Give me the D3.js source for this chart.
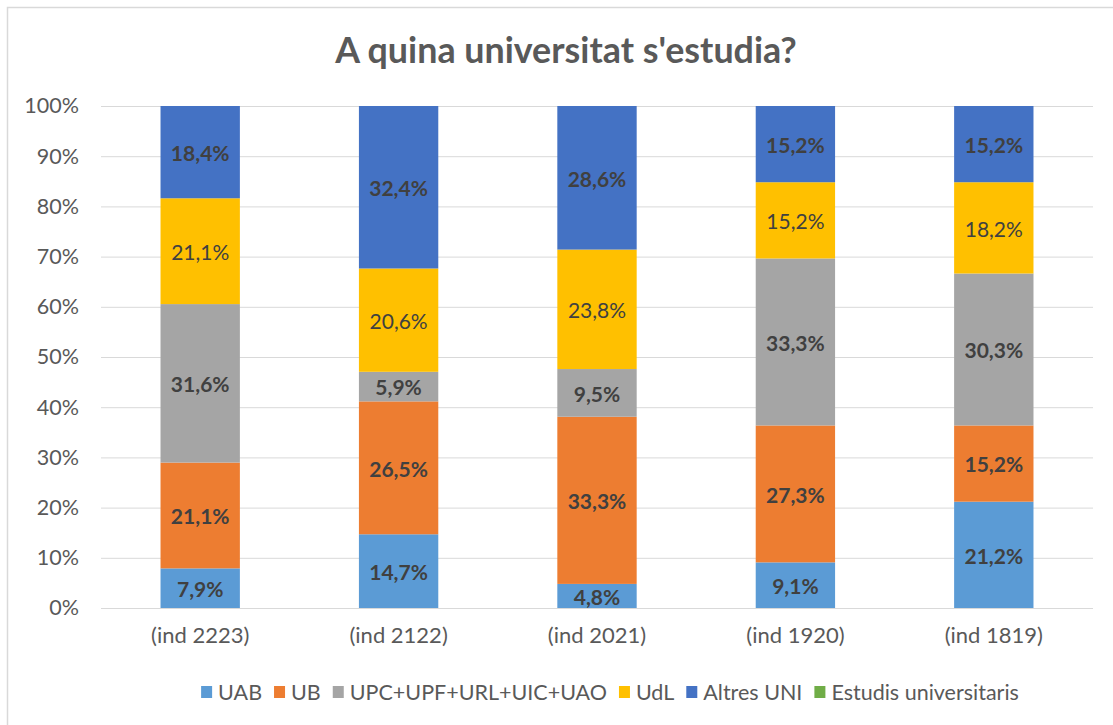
<!DOCTYPE html>
<html><head><meta charset="utf-8">
<script src="https://cdn.jsdelivr.net/npm/d3@7"></script>
<style>
html,body{margin:0;padding:0;background:#fff;}
svg{display:block;font-family:Lato,"Liberation Sans",sans-serif;}
</style></head>
<body><svg id="c" width="1113" height="725"></svg>
<script>
const categories = ["(ind 2223)", "(ind 2122)", "(ind 2021)", "(ind 1920)", "(ind 1819)"];
const seriesNames = ["UAB", "UB", "UPC+UPF+URL+UIC+UAO", "UdL", "Altres UNI", "Estudis universitaris"];
const seriesColors = ["#5B9BD5", "#ED7D31", "#A5A5A5", "#FFC000", "#4472C4", "#70AD47"];
const UAB   = [7.9, 14.7, 4.8, 9.1, 21.2];
const UB    = [21.1, 26.5, 33.3, 27.3, 15.2];
const UPC   = [31.6, 5.9, 9.5, 33.3, 30.3];
const UdL   = [21.1, 20.6, 23.8, 15.2, 18.2];
const Altres= [18.4, 32.4, 28.6, 15.2, 15.2];
const Estudis = [0, 0, 0, 0, 0];
const yTicks = [0, 10, 20, 30, 40, 50, 60, 70, 80, 90, 100];
const title = "A quina universitat s'estudia?";

const seriesVals = [UAB, UB, UPC, UdL, Altres, Estudis];
const boldLabel = [true, true, true, false, true, true];

const svg = d3.select("#c");
const m = {left:101, right:1093, top:106, bottom:608};

// chart frame
svg.append("rect").attr("x",7.5).attr("y",7.5).attr("width",1200).attr("height",1000)
  .attr("fill","#fff").attr("stroke","#d9d9d9").attr("stroke-width",1.5);

const x = d3.scaleBand().domain(categories).range([m.left, m.right]).paddingInner(0.6).paddingOuter(0.3);
const y = d3.scaleLinear().domain([0,100]).range([m.bottom, m.top]);

// gridlines
svg.append("g").selectAll("line").data(yTicks).join("line")
  .attr("x1", m.left).attr("x2", m.right)
  .attr("y1", d=>y(d)+0.5).attr("y2", d=>y(d)+0.5)
  .attr("stroke","#d9d9d9").attr("stroke-width",1);

// y axis labels
const yAxis = d3.axisLeft(y).tickValues(yTicks).tickFormat(d=>d+"%").tickSize(0).tickPadding(0);
const ya = svg.append("g").attr("transform",`translate(${79},0)`).call(yAxis);
ya.select(".domain").remove();
ya.selectAll("text").attr("fill","#595959").style("font-size","21.5px").style("font-family","Lato");

// x axis labels
const xAxis = d3.axisBottom(x).tickSize(0).tickPadding(0);
const xa = svg.append("g").attr("transform",`translate(0,${627})`).call(xAxis);
xa.select(".domain").remove();
xa.selectAll("text").attr("fill","#595959").style("font-size","22px").style("font-family","Lato");

// stacked data (100% normalized)
const rows = categories.map((c,i)=>{
  const o = {cat:c};
  seriesNames.forEach((s,j)=>o[s]=seriesVals[j][i]);
  return o;
});
const stack = d3.stack().keys(seriesNames).offset(d3.stackOffsetExpand);
const stacked = stack(rows);

const gBars = svg.append("g");
stacked.forEach((layer,j)=>{
  gBars.append("g").attr("fill",seriesColors[j]).selectAll("rect").data(layer).join("rect")
    .attr("x", d=>x(d.data.cat))
    .attr("width", x.bandwidth())
    .attr("y", d=>y(d[1]*100))
    .attr("height", d=>y(d[0]*100)-y(d[1]*100));
});
// labels
stacked.forEach((layer,j)=>{
  svg.append("g").selectAll("text").data(layer.filter(d=>d.data[seriesNames[j]]>0)).join("text")
    .attr("x", d=>x(d.data.cat)+x.bandwidth()/2)
    .attr("y", d=>(y(d[0]*100)+y(d[1]*100))/2)
    .attr("dy","0.42em")
    .attr("text-anchor","middle")
    .attr("fill","#404040")
    .style("font-size","21px")
    .style("font-weight", boldLabel[j] ? "bold" : "normal")
    .text(d=>d.data[seriesNames[j]].toFixed(1).replace(".",",")+"%");
});

// title
const t = svg.append("text").attr("x",566).attr("y",63).attr("text-anchor","middle")
  .attr("fill","#595959").style("font-size","28px").style("font-weight","bold").text(title);
const tw = t.node().getComputedTextLength();
t.style("font-size", (28*462/tw).toFixed(2)+"px");

// legend
const lg = svg.append("g");
let cx = 0;
seriesNames.forEach((s,j)=>{
  const g = lg.append("g").attr("transform",`translate(${cx},0)`);
  g.append("rect").attr("x",0).attr("y",-6).attr("width",11).attr("height",12).attr("fill",seriesColors[j]);
  const tx = g.append("text").attr("x",17).attr("y",0).attr("dy","0.38em").attr("fill","#595959")
    .style("font-size","21.5px").text(s);
  cx += 17 + tx.node().getComputedTextLength() + 12;
});
const total = cx - 12;
lg.attr("transform",`translate(${610 - total/2},692)`);
</script></body></html>
